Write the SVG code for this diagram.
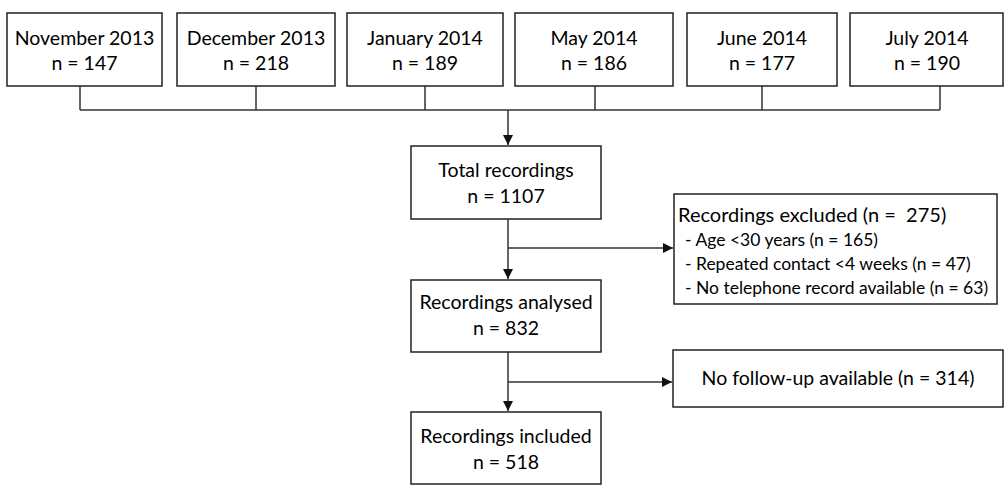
<svg xmlns="http://www.w3.org/2000/svg" width="1005" height="487" viewBox="0 0 1005 487">
<style>
.box{fill:#fff;stroke:#222;stroke-width:1.5}
.t{font-family:Lato,"Open Sans","Liberation Sans",sans-serif;font-size:19.5px;fill:#000;text-anchor:middle}
.s{font-family:Lato,"Open Sans","Liberation Sans",sans-serif;font-size:17.5px;fill:#000}
.ln{fill:none;stroke:#333;stroke-width:1.5}
</style>
<defs>
<marker id="ah" viewBox="0 0 10 10" refX="10" refY="5" markerWidth="10" markerHeight="10" markerUnits="userSpaceOnUse" orient="auto">
<path d="M0,0 L10,5 L0,10 z" fill="#111"/>
</marker>
</defs>
<g id="connectors">
<path class="ln" d="M80,86 V110 M256,86 V110 M425,86 V110 M595,86 V110 M762,86 V110 M940,86 V110 M80,110 H940"/>
<path class="ln" d="M508,110 V145" marker-end="url(#ah)"/>
<path class="ln" d="M508,219 V279" marker-end="url(#ah)"/>
<path class="ln" d="M508,248 H673" marker-end="url(#ah)"/>
<path class="ln" d="M508,352 V411" marker-end="url(#ah)"/>
<path class="ln" d="M508,382 H672" marker-end="url(#ah)"/>
</g>
<g id="nov2013"><rect class="box" x="7" y="13" width="155" height="73"/><text class="t" x="84.5" y="45">November 2013</text><text class="t" x="84.5" y="70">n = 147</text></g>
<g id="dec2013"><rect class="box" x="177" y="13" width="158" height="73"/><text class="t" x="256" y="45">December 2013</text><text class="t" x="256" y="70">n = 218</text></g>
<g id="jan2014"><rect class="box" x="347" y="13" width="156" height="73"/><text class="t" x="425" y="45">January 2014</text><text class="t" x="425" y="70">n = 189</text></g>
<g id="may2014"><rect class="box" x="515" y="13" width="158" height="73"/><text class="t" x="594" y="45">May 2014</text><text class="t" x="594" y="70">n = 186</text></g>
<g id="jun2014"><rect class="box" x="687" y="13" width="150" height="73"/><text class="t" x="762" y="45">June 2014</text><text class="t" x="762" y="70">n = 177</text></g>
<g id="jul2014"><rect class="box" x="850" y="13" width="153" height="73"/><text class="t" x="927" y="45">July 2014</text><text class="t" x="927" y="70">n = 190</text></g>
<g id="total"><rect class="box" x="411" y="146" width="190" height="73"/><text class="t" x="506" y="177">Total recordings</text><text class="t" x="506" y="203">n = 1107</text></g>
<g id="excluded"><rect class="box" x="674" y="194" width="323" height="110"/>
<text class="s" x="678" y="222" style="font-size:20px;white-space:pre">Recordings excluded (n =  275)</text>
<text class="s" x="685" y="246">- Age &lt;30 years (n = 165)</text>
<text class="s" x="685" y="270">- Repeated contact &lt;4 weeks (n = 47)</text>
<text class="s" x="685" y="294">- No telephone record available (n = 63)</text></g>
<g id="analysed"><rect class="box" x="411" y="280" width="190" height="72"/><text class="t" x="506" y="309">Recordings analysed</text><text class="t" x="506" y="335">n = 832</text></g>
<g id="nofollow"><rect class="box" x="673" y="350" width="330" height="57"/><text class="t" x="838" y="385">No follow-up available (n = 314)</text></g>
<g id="included"><rect class="box" x="411" y="412" width="190" height="72"/><text class="t" x="506" y="443">Recordings included</text><text class="t" x="506" y="469">n = 518</text></g>
</svg>
